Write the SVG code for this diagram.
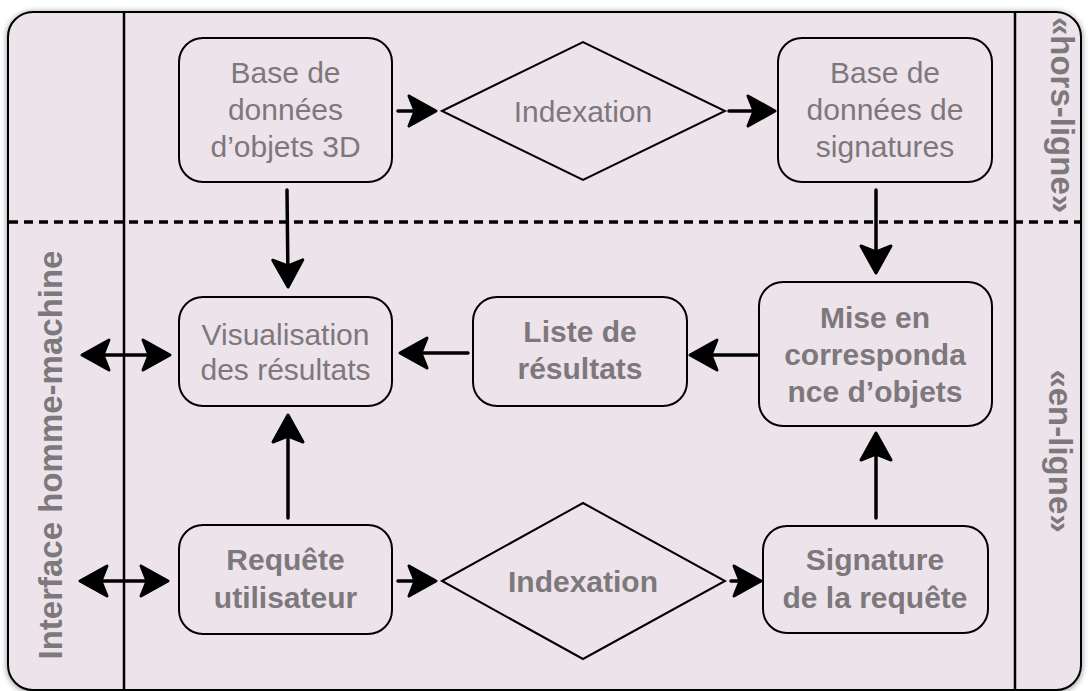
<svg xmlns="http://www.w3.org/2000/svg" width="1088" height="691" viewBox="0 0 1088 691">
<defs>
<filter id="sh" x="-5%" y="-5%" width="110%" height="110%">
<feGaussianBlur in="SourceAlpha" stdDeviation="3"/>
<feOffset dx="0" dy="1" result="b"/>
<feComponentTransfer><feFuncA type="linear" slope="0.45"/></feComponentTransfer>
<feMerge><feMergeNode/><feMergeNode in="SourceGraphic"/></feMerge>
</filter>
<marker id="ah" markerUnits="userSpaceOnUse" markerWidth="40" markerHeight="40" viewBox="-6 -20 40 40" refX="21" refY="0" orient="auto-start-reverse">
<path d="M0,-15 L27,0 L0,15 L6,0 Z" fill="#000" stroke="#000" stroke-width="3" stroke-linejoin="round"/>
</marker>
</defs>
<style>
.node{fill:none;stroke:#000;stroke-width:2}
.t{font-family:"Liberation Sans",Arial,sans-serif;font-size:30px;fill:#7d787c;text-anchor:middle}
.b{font-weight:bold}
.lab{font-family:"Liberation Sans",Arial,sans-serif;font-size:33px;font-weight:bold;fill:#7d787c;text-anchor:middle}
.c{fill:none;stroke:#000;stroke-width:3.5;stroke-linecap:round;marker-end:url(#ah)}
.d{marker-start:url(#ah)}
</style>
<g id="frame">
<rect x="8" y="12" width="1073" height="678" rx="25" fill="#ede4eb" stroke="#000" stroke-width="2" filter="url(#sh)"/>
<line x1="124" y1="12" x2="124" y2="691" stroke="#000" stroke-width="2.5"/>
<line x1="1015" y1="12" x2="1015" y2="691" stroke="#000" stroke-width="2.5"/>
<line x1="9" y1="222" x2="1080" y2="222" stroke="#000" stroke-width="3.5" stroke-dasharray="9 6"/>
<text class="lab" transform="translate(62,455) rotate(-90)">Interface homme-machine</text>
<text class="lab" transform="translate(1051,115) rotate(90)">«hors-ligne»</text>
<text class="lab" transform="translate(1049,451) rotate(90)">«en-ligne»</text>
</g>
<g id="n-base3d">
<rect class="node" x="179" y="38" width="213" height="144" rx="24"/>
<text class="t" x="285.5" y="83">Base de</text>
<text class="t" x="285.5" y="120">données</text>
<text class="t" x="285.5" y="157">d’objets 3D</text>
</g>
<g id="n-index1">
<polygon class="node" points="442,111 583,42 725,111 583,180"/>
<text class="t" x="583" y="122">Indexation</text>
</g>
<g id="n-basesig">
<rect class="node" x="778" y="38" width="214" height="144" rx="24"/>
<text class="t" x="885" y="83">Base de</text>
<text class="t" x="885" y="120">données de</text>
<text class="t" x="885" y="157">signatures</text>
</g>
<g id="n-visu">
<rect class="node" x="179" y="297" width="213" height="109" rx="24"/>
<text class="t" x="285.5" y="345">Visualisation</text>
<text class="t" x="285.5" y="380">des résultats</text>
</g>
<g id="n-liste">
<rect class="node" x="473" y="297" width="214" height="109" rx="24"/>
<text class="t b" x="580" y="342">Liste de</text>
<text class="t b" x="580" y="379">résultats</text>
</g>
<g id="n-mise">
<rect class="node" x="759" y="282" width="233" height="144" rx="24"/>
<text class="t b" x="875" y="328">Mise en</text>
<text class="t b" x="875" y="365">corresponda</text>
<text class="t b" x="875" y="402">nce d’objets</text>
</g>
<g id="n-requete">
<rect class="node" x="179" y="525" width="213" height="109" rx="24"/>
<text class="t b" x="285.5" y="570">Requête</text>
<text class="t b" x="285.5" y="608">utilisateur</text>
</g>
<g id="n-index2">
<polygon class="node" points="442,581 583,503 725,581 583,659"/>
<text class="t b" x="583" y="592">Indexation</text>
</g>
<g id="n-signature">
<rect class="node" x="763" y="526" width="225" height="107" rx="24"/>
<text class="t b" x="875" y="570">Signature</text>
<text class="t b" x="875" y="608">de la requête</text>
</g>
<g id="connectors">
<line class="c" x1="398" y1="111" x2="430" y2="111"/>
<line class="c" x1="729" y1="111" x2="769" y2="111"/>
<line class="c" x1="287" y1="190" x2="288" y2="281"/>
<line class="c" x1="876" y1="190" x2="876" y2="267"/>
<line class="c" x1="757" y1="355" x2="696" y2="355"/>
<line class="c" x1="468" y1="353" x2="406" y2="353"/>
<line class="c" x1="288" y1="518" x2="288" y2="421"/>
<line class="c" x1="398" y1="581" x2="430" y2="581"/>
<line class="c" x1="731" y1="581" x2="755" y2="581"/>
<line class="c" x1="876" y1="518" x2="876" y2="439"/>
<line class="c d" x1="88" y1="355" x2="164" y2="355"/>
<line class="c d" x1="86" y1="581" x2="162" y2="581"/>
</g>
</svg>
